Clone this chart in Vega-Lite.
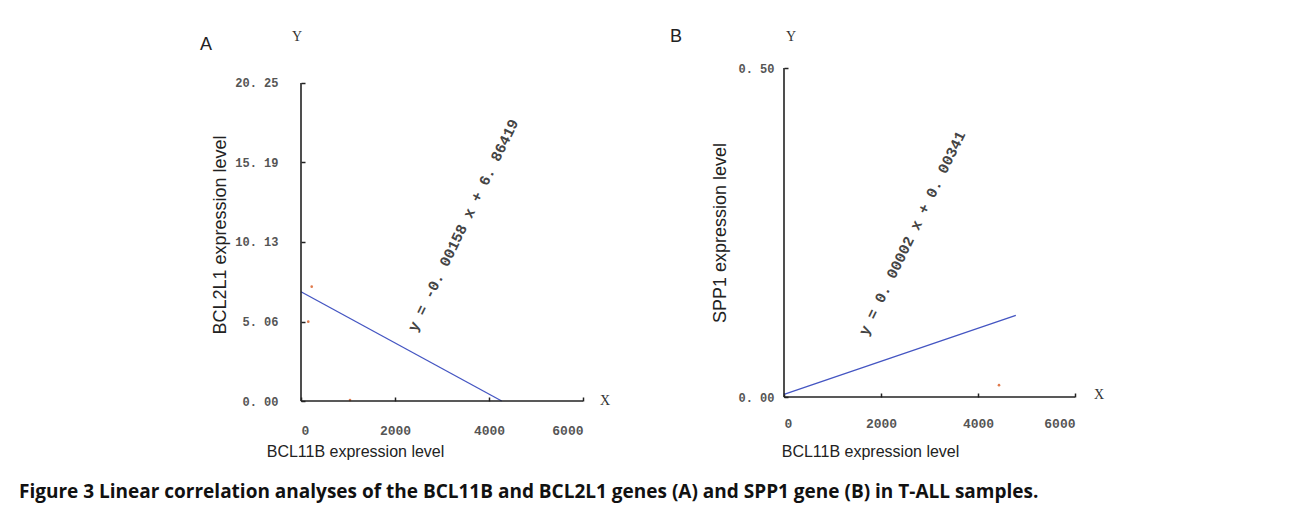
{
  "$schema": "https://vega.github.io/schema/vega-lite/v6.json",
  "background": "white",
  "padding": {"left": 18, "top": 28, "right": 10, "bottom": 8},
  "autosize": {"type": "pad"},
  "config": {"view": {"stroke": null}, "axis": {"grid": false}},
  "bounds": "flush",
  "spacing": 201,
  "title": {"text": "Figure 3 Linear correlation analyses of the BCL11B and BCL2L1 genes (A) and SPP1 gene (B) in T-ALL samples.", "orient": "bottom", "anchor": "start", "font": "Open Sans", "fontSize": 19, "fontWeight": "bold", "color": "#111", "dx": -181, "offset": 24},
  "datasets": {
    "a_pts": [{"x": 228, "y": 7.28}, {"x": 155, "y": 5.05}, {"x": 1043, "y": 0.06}],
    "a_fit": [{"x": 0, "y": 6.96}, {"x": 4270, "y": 0}],
    "b_pts": [{"x": 4433, "y": 0.018}],
    "b_fit": [{"x": 0, "y": 0.004}, {"x": 4780, "y": 0.124}]
  },
  "hconcat": [
    {
      "width": 282,
      "height": 333,
      "layer": [
        {
          "data": {"name": "a_fit"},
          "mark": {"type": "line", "color": "#4455c2", "strokeWidth": 1.3},
          "encoding": {
            "x": {"field": "x", "type": "quantitative", "scale": {"domain": [0, 6000], "nice": false, "zero": false},
              "axis": {"values": [0, 2000, 4000, 6000], "format": "d", "domain": false, "tickSize": -4, "tickColor": "#222", "tickWidth": 1.5,
                "labelFont": "Liberation Mono", "labelFontSize": 13, "labelFontWeight": "bold", "labelColor": "#555", "labelPadding": 27,
                "title": "BCL11B expression level", "titleFont": "Liberation Sans", "titleFontSize": 16, "titleFontWeight": "normal", "titleColor": "#222", "titleX": 54, "titleAlign": "center", "titlePadding": 6}},
            "y": {"field": "y", "type": "quantitative", "scale": {"domain": [0, 21.205], "nice": false, "zero": false},
              "axis": {"values": [0, 5.06, 10.13, 15.19, 20.25], "labelExpr": "replace(format(datum.value,'.2f'),'.','. ')", "domain": false, "tickSize": -4, "tickColor": "#222", "tickWidth": 1.5,
                "labelFont": "Liberation Mono", "labelFontSize": 12, "labelFontWeight": "bold", "labelColor": "#555", "labelPadding": 27,
                "title": "BCL2L1 expression level", "titleFont": "Liberation Sans", "titleFontSize": 18, "titleFontWeight": "normal", "titleColor": "#222", "titlePadding": 5}}
          }
        },
        {
          "data": {"name": "a_pts"},
          "mark": {"type": "circle", "color": "#e07a4c", "size": 7, "opacity": 1},
          "encoding": {"x": {"field": "x", "type": "quantitative"}, "y": {"field": "y", "type": "quantitative"}}
        },
        {
          "data": {"values": [{}]},
          "mark": {"type": "rule", "color": "#222", "strokeWidth": 1.6},
          "encoding": {"x": {"datum": 0}, "y": {"datum": 0}, "y2": {"datum": 20.25}}
        },
        {
          "data": {"values": [{}]},
          "mark": {"type": "rule", "color": "#222", "strokeWidth": 1.6},
          "encoding": {"y": {"datum": 0}, "x": {"datum": 0}, "x2": {"datum": 6000}}
        },
        {
          "data": {"values": [{}]},
          "mark": {"type": "text", "text": "A", "font": "Liberation Sans", "fontSize": 18, "color": "#222", "align": "center", "baseline": "middle", "dx": -95, "dy": -38},
          "encoding": {"x": {"datum": 0}, "y": {"datum": 20.25}}
        },
        {
          "data": {"values": [{}]},
          "mark": {"type": "text", "text": "Y", "font": "Liberation Serif", "fontSize": 14, "color": "#333", "align": "center", "baseline": "middle", "dx": -4, "dy": -46},
          "encoding": {"x": {"datum": 0}, "y": {"datum": 20.25}}
        },
        {
          "data": {"values": [{}]},
          "mark": {"type": "text", "text": "X", "font": "Liberation Serif", "fontSize": 14, "color": "#333", "align": "center", "baseline": "middle", "dx": 22, "dy": 0},
          "encoding": {"x": {"datum": 6000}, "y": {"datum": 0}}
        },
        {
          "data": {"values": [{}]},
          "mark": {"type": "text", "text": "y = -0. 00158 x + 6. 86419", "font": "Liberation Mono", "fontSize": 15, "fontWeight": "bold", "color": "#444", "angle": 296, "align": "center", "baseline": "middle"},
          "encoding": {"x": {"datum": 3447}, "y": {"datum": 11.2}}
        }
      ]
    },
    {
      "width": 291,
      "height": 329,
      "layer": [
        {
          "data": {"name": "b_fit"},
          "mark": {"type": "line", "color": "#4455c2", "strokeWidth": 1.3},
          "encoding": {
            "x": {"field": "x", "type": "quantitative", "scale": {"domain": [0, 6000], "nice": false, "zero": false},
              "axis": {"values": [0, 2000, 4000, 6000], "format": "d", "domain": false, "tickSize": -4, "tickColor": "#222", "tickWidth": 1.5,
                "labelFont": "Liberation Mono", "labelFontSize": 13, "labelFontWeight": "bold", "labelColor": "#555", "labelPadding": 24,
                "title": "BCL11B expression level", "titleFont": "Liberation Sans", "titleFontSize": 16, "titleFontWeight": "normal", "titleColor": "#222", "titleX": 86, "titleAlign": "center", "titlePadding": 13}},
            "y": {"field": "y", "type": "quantitative", "scale": {"domain": [0, 0.5], "nice": false, "zero": false},
              "axis": {"values": [0, 0.5], "labelExpr": "replace(format(datum.value,'.2f'),'.','. ')", "domain": false, "tickSize": -4, "tickColor": "#222", "tickWidth": 1.5,
                "labelFont": "Liberation Mono", "labelFontSize": 12, "labelFontWeight": "bold", "labelColor": "#555", "labelPadding": 14,
                "title": "SPP1 expression level", "titleFont": "Liberation Sans", "titleFontSize": 18, "titleFontWeight": "normal", "titleColor": "#222", "titlePadding": 8}}
          }
        },
        {
          "data": {"name": "b_pts"},
          "mark": {"type": "circle", "color": "#e07a4c", "size": 7, "opacity": 1},
          "encoding": {"x": {"field": "x", "type": "quantitative"}, "y": {"field": "y", "type": "quantitative"}}
        },
        {
          "data": {"values": [{}]},
          "mark": {"type": "rule", "color": "#222", "strokeWidth": 1.6},
          "encoding": {"x": {"datum": 0}, "y": {"datum": 0}, "y2": {"datum": 0.5}}
        },
        {
          "data": {"values": [{}]},
          "mark": {"type": "rule", "color": "#222", "strokeWidth": 1.6},
          "encoding": {"y": {"datum": 0}, "x": {"datum": 0}, "x2": {"datum": 6000}}
        },
        {
          "data": {"values": [{}]},
          "mark": {"type": "text", "text": "B", "font": "Liberation Sans", "fontSize": 18, "color": "#222", "align": "center", "baseline": "middle", "dx": -108, "dy": -31},
          "encoding": {"x": {"datum": 0}, "y": {"datum": 0.5}}
        },
        {
          "data": {"values": [{}]},
          "mark": {"type": "text", "text": "Y", "font": "Liberation Serif", "fontSize": 14, "color": "#333", "align": "center", "baseline": "middle", "dx": 7, "dy": -31},
          "encoding": {"x": {"datum": 0}, "y": {"datum": 0.5}}
        },
        {
          "data": {"values": [{}]},
          "mark": {"type": "text", "text": "X", "font": "Liberation Serif", "fontSize": 14, "color": "#333", "align": "center", "baseline": "middle", "dx": 24, "dy": -2},
          "encoding": {"x": {"datum": 6000}, "y": {"datum": 0}}
        },
        {
          "data": {"values": [{}]},
          "mark": {"type": "text", "text": "y = 0. 00002 x + 0. 00341", "font": "Liberation Mono", "fontSize": 15, "fontWeight": "bold", "color": "#444", "angle": 296, "align": "center", "baseline": "middle"},
          "encoding": {"x": {"datum": 2639}, "y": {"datum": 0.249}}
        }
      ]
    }
  ]
}
